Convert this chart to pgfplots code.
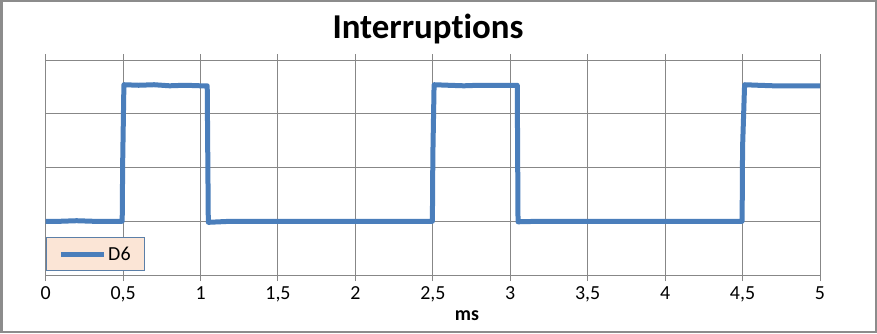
\documentclass[border=0pt]{standalone}
\usepackage{pgfplots}
\pgfplotsset{compat=1.18}
\usepackage{fontspec}
\setmainfont{Carlito}[Ligatures={NoCommon}]
\definecolor{serie}{HTML}{4A7EBB}
\definecolor{gridc}{HTML}{878787}
\definecolor{legfill}{HTML}{FBE5D6}
\definecolor{legdraw}{HTML}{5B7FA8}
\definecolor{frame}{HTML}{8C8C8C}
\begin{document}
\begin{tikzpicture}[x=1bp,y=1bp]
\path[use as bounding box] (0,0) rectangle (877,333);
\fill[white] (0,0) rectangle (877,333);
\begin{axis}[
  at={(45.7bp,58bp)}, anchor=south west,
  scale only axis, width=774.3bp, height=215bp,
  xmin=0, xmax=5, ymin=0, ymax=4,
  xtick={0,0.5,1,1.5,2,2.5,3,3.5,4,4.5,5},
  ytick={0,1,2,3,4}, yticklabels={},
  grid=major,
  grid style={gridc, line width=1bp},
  axis line style={gridc, line width=1bp},
  x tick style={gridc, line width=1bp},
  y tick style={draw=none},
  tick align=outside,
  major tick length=6bp,
  xticklabel style={font=\fontsize{20}{24}\selectfont, yshift=-2bp},
  /pgf/number format/.cd, use comma, assume math mode=true,
  /pgfplots/.cd,
  legend style={at={(0.0002,0.018)}, anchor=south west, fill=legfill, draw=legdraw,
    line width=0.8bp, font=\fontsize{20}{24}\selectfont,
    inner xsep=12bp, inner ysep=7bp},
  legend cell align=left,
  legend image code/.code={\draw[#1, line width=5bp] (0bp,0bp) -- (43bp,0bp);},
]
\addplot[serie, line width=5bp, line join=round] coordinates {
(0,1.0) (0.10,1.0) (0.20,1.01) (0.30,1.0) (0.40,1.0) (0.494,1.0)
(0.497,2.08) (0.505,3.54) (0.60,3.53) (0.70,3.54) (0.80,3.52) (0.90,3.53) (1.0,3.52) (1.043,3.52)
(1.05,0.98) (1.20,1.0) (1.40,1.0) (1.60,1.0) (1.80,1.0) (2.0,1.0) (2.20,1.0) (2.40,1.0) (2.497,1.0)
(2.500,2.23) (2.508,3.54) (2.60,3.53) (2.70,3.52) (2.80,3.53) (2.90,3.53) (3.0,3.53) (3.045,3.53)
(3.05,0.99) (3.20,1.0) (3.40,1.0) (3.60,1.0) (3.80,1.0) (4.0,1.0) (4.20,1.0) (4.40,1.0) (4.497,1.0)
(4.500,2.38) (4.513,3.54) (4.60,3.53) (4.70,3.52) (4.80,3.52) (4.90,3.52) (5.0,3.52)
};
\addlegendentry{D6}
\end{axis}
\node[font=\fontsize{35}{42}\selectfont\bfseries, anchor=base] at (428,295) {Interruptions};
\node[font=\fontsize{20}{24}\selectfont\bfseries, anchor=base] at (467,13) {ms};
\draw[frame, line width=2.5bp] (1.25,1.25) rectangle (875.75,331.75);
\end{tikzpicture}
\end{document}
